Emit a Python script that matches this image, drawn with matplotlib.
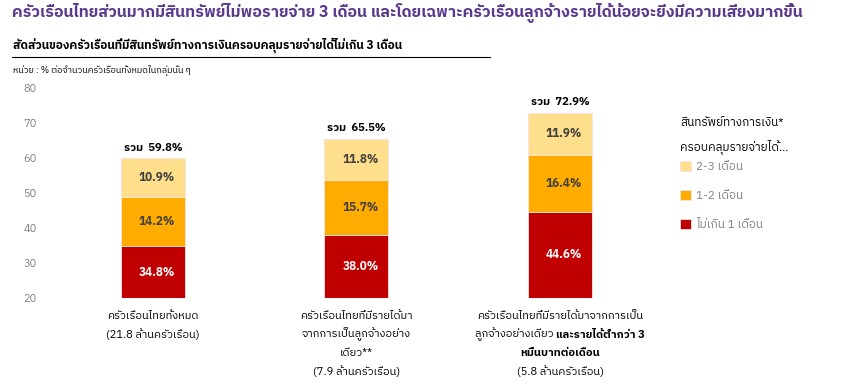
import matplotlib
matplotlib.use("Agg")
import matplotlib.pyplot as plt
import matplotlib.font_manager as fm
from matplotlib.ft2font import FT2Font
import numpy as np

# look for any installed font that has Thai glyphs
thai_font = None
cands = sorted(fm.fontManager.ttflist, key=lambda f: ("thai" not in f.name.lower(), f.name))
for f in cands:
    try:
        if 0x0E01 in FT2Font(f.fname).get_charmap():
            thai_font = f.name
            break
    except Exception:
        pass
fams = ([thai_font] if thai_font else []) + ["DejaVu Sans"]
plt.rcParams["font.family"] = fams

# data
groups = ["all", "employee", "employee_lowinc"]
under1 = [34.8, 38.0, 44.6]
m1_2 = [14.2, 15.7, 16.4]
m2_3 = [10.9, 11.8, 11.9]
totals = [59.8, 65.5, 72.9]
series_labels = ["ไม่เกิน 1 เดือน", "1-2 เดือน", "2-3 เดือน"]
yticks = [20, 30, 40, 50, 60, 70, 80]

colors = ["#C00000", "#FFAB00", "#FFDF8C"]
txt_colors = ["white", "#404040", "#404040"]
YMIN = 20

fig = plt.figure(figsize=(8.67, 3.87), dpi=100)
W, H = 867, 387
ax = fig.add_axes([45 / W, 1 - 298 / H, (660 - 45) / W, (298 - 88) / H])

x = np.arange(len(groups))
bw = 0.315
bottom = np.zeros(len(groups))
handles = []
for vals, c, tc, lab in zip([under1, m1_2, m2_3], colors, txt_colors, series_labels):
    vals = np.array(vals, dtype=float)
    b = ax.bar(x, vals, bw, bottom=bottom, color=c, edgecolor="#f4e4e4", linewidth=0.6, label=lab)
    handles.append(b)
    for xi, bi, v in zip(x, bottom, vals):
        lo = max(bi, YMIN)
        ax.text(xi + 0.02, (lo + bi + v) / 2, f"{v:.1f}%", ha="center", va="center",
                color=tc, fontsize=8.5, fontweight="bold")
    bottom = bottom + vals

for xi, t in zip(x, totals):
    ax.annotate(f"รวม  {t:.1f}%", (xi, t), xytext=(0, 8), textcoords="offset points",
                ha="center", va="center", fontsize=8, fontweight="bold", color="black")

ax.set_xlim(-0.53, (660 - 153) / 203.5)
ax.set_ylim(YMIN, 80)
ax.set_yticks(yticks)
ax.tick_params(axis="y", length=0, labelcolor="#808080", labelsize=8, pad=6)
ax.set_xticks([])
for s in ax.spines.values():
    s.set_visible(False)

# category labels
def fx(xi):
    return ax.transData.transform((xi, 0))[0] / W

lh = 18.5 / H
y0 = 1 - 316 / H
fs = 8
fig.text(fx(0), y0, "ครัวเรือนไทยทั้งหมด", ha="center", va="center", fontsize=fs)
fig.text(fx(0), y0 - lh, "(21.8 ล้านครัวเรือน)", ha="center", va="center", fontsize=fs, style="italic")

lines2 = ["ครัวเรือนไทยที่มีรายได้มา", "จากการเป็นลูกจ้างอย่าง", "เดียว**"]
for i, l in enumerate(lines2):
    fig.text(fx(1), y0 - i * lh, l, ha="center", va="center", fontsize=fs)
fig.text(fx(1), y0 - 3 * lh, "(7.9 ล้านครัวเรือน)", ha="center", va="center", fontsize=fs, style="italic")

fig.text(fx(2), y0, "ครัวเรือนไทยที่มีรายได้มาจากการเป็น", ha="center", va="center", fontsize=fs)
r = fig.canvas.get_renderer()
ta = fig.text(0, y0 - lh, "ลูกจ้างอย่างเดียว ", ha="left", va="center", fontsize=fs)
tb = fig.text(0, y0 - lh, "และรายได้ต่ำกว่า 3", ha="left", va="center", fontsize=fs, fontweight="bold")
wa = ta.get_window_extent(r).width / W
wb = tb.get_window_extent(r).width / W
start = fx(2) - (wa + wb) / 2
ta.set_x(start)
tb.set_x(start + wa)
fig.text(fx(2), y0 - 2 * lh, "หมื่นบาทต่อเดือน", ha="center", va="center", fontsize=fs, fontweight="bold")
fig.text(fx(2), y0 - 3 * lh, "(5.8 ล้านครัวเรือน)", ha="center", va="center", fontsize=fs, style="italic")

# legend (title drawn separately so its spacing can be set)
fig.text(680 / W, 1 - 123 / H, "สินทรัพย์ทางการเงิน*", ha="left", va="center", fontsize=8.5)
fig.text(680 / W, 1 - 147 / H, "ครอบคลุมรายจ่ายได้...", ha="left", va="center", fontsize=8.5)
leg = fig.legend(handles[::-1], series_labels[::-1], loc="upper left",
                 bbox_to_anchor=(669 / W, 1 - 150 / H), frameon=False,
                 fontsize=8.5, handlelength=1.0, handleheight=1.0,
                 handletextpad=0.4, labelspacing=1.5)
for t in leg.get_texts():
    t.set_color("#808080")

# titles
fig.text(12 / W, 1 - 13 / H,
         "ครัวเรือนไทยส่วนมากมีสินทรัพย์ไม่พอรายจ่าย 3 เดือน และโดยเฉพาะครัวเรือนลูกจ้างรายได้น้อยจะยิ่งมีความเสี่ยงมากขึ้น",
         ha="left", va="center", fontsize=11.4, color="#5B3A8E", fontweight="bold")
fig.text(13 / W, 1 - 45 / H,
         "สัดส่วนของครัวเรือนที่มีสินทรัพย์ทางการเงินครอบคลุมรายจ่ายได้ไม่เกิน 3 เดือน",
         ha="left", va="center", fontsize=8.5, fontweight="bold", color="black")
fig.add_artist(plt.Line2D([12 / W, 490 / W], [1 - 57 / H, 1 - 57 / H], color="black", lw=0.8))
fig.text(13 / W, 1 - 70 / H, "หน่วย : % ต่อจำนวนครัวเรือนทั้งหมดในกลุ่มนั้น ๆ",
         ha="left", va="center", fontsize=6.5, color="black")

fig.savefig("out.png", dpi=100)
